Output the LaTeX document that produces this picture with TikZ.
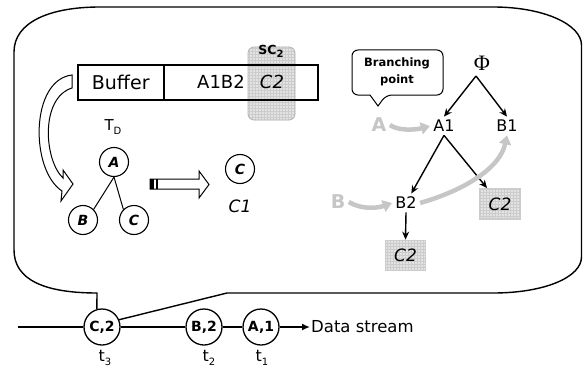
\documentclass[tikz,border=0pt]{standalone}
\usepackage{fontspec}
\setmainfont{DejaVu Sans}
\newfontfamily\serifphi{Liberation Serif}
\usetikzlibrary{arrows.meta,patterns}
\newcommand{\sbsc}[1]{\raisebox{-0.45ex}{\fontsize{10}{10}\selectfont #1}}
\begin{document}
\begin{tikzpicture}[x=1pt,y=-1pt,
  fs/.style={font=\fontsize{#1}{#1}\selectfont},
  fsi/.style={font=\fontsize{#1}{#1}\selectfont\itshape},
  fsb/.style={font=\fontsize{#1}{#1}\selectfont\bfseries},
  streamc/.style={circle,draw,line width=1.3pt,minimum size=36pt,inner sep=0pt,fill=white,font=\fontsize{14}{14}\selectfont\bfseries},
  treec/.style={circle,draw,line width=1.1pt,minimum size=29pt,inner sep=0pt,font=\fontsize{14}{14}\selectfont\bfseries\itshape},
  gridbox/.style={draw=gray!40,line width=1.8pt,preaction={fill=gray!22},pattern=grid,pattern color=gray!40,minimum width=40pt,minimum height=30pt,inner sep=0pt,font=\fontsize{17}{17}\selectfont\itshape},
  blarrow/.style={line width=1.4pt,-{Stealth[length=8pt,width=7pt]}},
  grarrow/.style={draw=gray!45,line width=4.5pt,-{Triangle[length=9pt,width=12pt]}},
  glabel/.style={text=gray!45,font=\fontsize{19}{19}\selectfont\bfseries},
  tlabel/.style={anchor=north,inner sep=0pt,font=\fontsize{16}{16}\selectfont},
  stream/.style={line width=2.2pt},
  outline/.style={line width=1.4pt}
]
\useasboundingbox (0,0) rectangle (583,369);

% ---------- data stream ----------
\coordinate (sstart) at (18,327);
\node[streamc] (c2s) at (102,327) {C,2};
\node[streamc] (b2s) at (204,327) {B,2};
\node[streamc] (a1s) at (261,327) {A,1};
\node[anchor=west,inner sep=1pt,fs=16.5] (ds) at (310,327) {Data stream};
\draw[stream] (sstart) -- (c2s) (c2s) -- (b2s) (b2s) -- (a1s);
\draw[stream,-{Latex[length=8pt,width=7pt]}] (a1s) -- (ds);
\node[tlabel] (t3) at (105,350) {t\sbsc{3}};
\node[tlabel] (t2) at (209,350) {t\sbsc{2}};
\node[tlabel] (t1) at (262,350) {t\sbsc{1}};

% ---------- callout ----------
\coordinate (legL) at (97,293);
\coordinate (legR) at (227,293);
\draw[outline] (c2s.106) -- (legL) .. controls (45,293) and (14,280) .. (14,250)
  -- (14,52) .. controls (14,22) and (50,7) .. (100,7)
  -- (493,7) .. controls (545,7) and (581.5,25) .. (581.5,45)
  -- (581.5,257) .. controls (581.5,277) and (545,293) .. (493,293)
  -- (legR) -- (c2s.23);

% ---------- buffer ----------
\draw[rounded corners=6pt,draw=gray!60,line width=0.8pt,preaction={fill=gray!22},pattern=grid,pattern color=gray!40] (248,47) rectangle (295,120);
\node[fsb=12.5] (sc) at (271,51) {SC\sbsc{2}};
\node[draw,line width=1.5pt,minimum width=86pt,minimum height=35pt,anchor=north west,inner sep=0pt,fs=19] (buf) at (77,64) {Buffer};
\node[draw,line width=1.5pt,minimum width=154pt,minimum height=35pt,anchor=north west,inner sep=0pt] (seq) at (163,64) {};
\node[fs=18] (ab) at (221,82) {A1B2};
\node[fsi=18] (cc) at (272,82) {C2};

% curved hollow arrow
\draw[line width=1pt,fill=white] (72,75) .. controls (30,80) and (30,170) .. (62,191)
  -- (61,201) -- (73,184) -- (63,170) -- (63,178)
  .. controls (44,160) and (40,98) .. (72,88) -- cycle;

% ---------- tree T_D ----------
\node[fs=15] (td) at (113,127) {T\sbsc{D}};
\node[treec] (ta) at (114,162) {A};
\node[treec] (tb) at (83,220) {B};
\node[treec] (tc) at (134,220) {C};
\draw[line width=1pt] (ta.south) -- (tb.north east);
\draw[line width=1pt] (ta.south) -- (tc.north west);

% striped hollow arrow
\draw[line width=1pt,fill=white] (150,179) -- (199,179) -- (199,171) -- (209,184.5) -- (199,198) -- (199,189) -- (150,189) -- cycle;
\fill (150,179) rectangle (154,189);
\fill (156,179) rectangle (158,189);

\node[treec] (rc) at (240,169) {C};
\node[fsi=17] (c1) at (240,206) {C1};

% ---------- right tree ----------
\draw[line width=1pt,rounded corners=6pt] (352,50) -- (443,50) -- (443,95) -- (386,95)
  [sharp corners] -- (378,106) -- (370,95) [rounded corners=6pt] -- (352,95) -- cycle;
\node[align=center,font=\fontsize{11.5}{17}\selectfont\bfseries] (bp) at (397,72) {Branching\\point};

\node[font=\fontsize{22}{22}\selectfont\serifphi] (phi) at (482,63) {Φ};
\coordinate (apex) at (476,76);
\node[fs=16] (A1) at (444,126) {A1};
\node[fs=16] (B1) at (507,126) {B1};
\node[fs=16] (B2) at (406,203) {B2};
\node[glabel] (gA) at (379,125) {A};
\node[glabel] (gB) at (338,202) {B};
\node[gridbox] (rc2) at (500,204) {C2};
\node[gridbox] (lc2) at (405.5,255.5) {C2};

\draw[blarrow] (apex) -- (A1.north);
\draw[blarrow] (apex) -- (B1.north);
\draw[blarrow] (A1.south) -- (B2);
\draw[blarrow] (A1.south) -- (rc2);
\draw[blarrow] (B2.south) -- (lc2.north);

\draw[grarrow] (gA.east) .. controls (398,131) and (415,130) .. (A1.west);
\draw[grarrow] (gB.east) .. controls (362,210) and (378,208) .. (B2.west);
\draw[grarrow] (B2.east) .. controls (465,190) and (500,168) .. (B1.south);
\end{tikzpicture}
\end{document}
